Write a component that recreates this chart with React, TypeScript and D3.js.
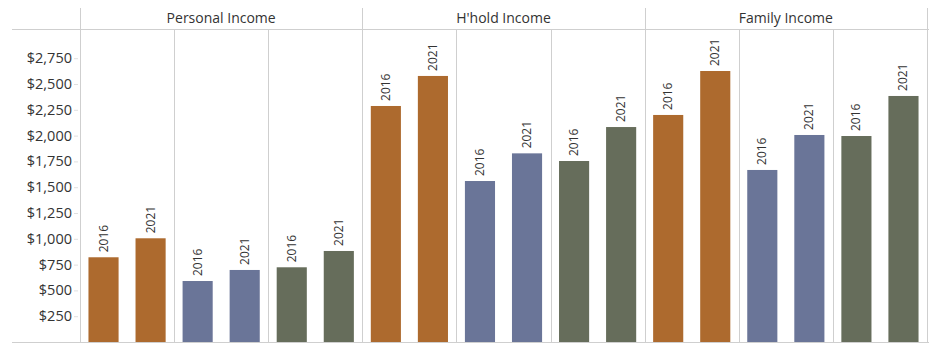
import React, { useEffect, useRef } from "react";
import * as d3 from "d3";

const panels = ["Personal Income", "H'hold Income", "Family Income"];
const groups = ["A", "B", "C"];
const years = ["2016", "2021"];
const groupColors = ["#AD6A2E", "#6A7598", "#666D5B"];

// values per panel, per group: [2016, 2021]
const personalValues = [[821, 1005], [591, 698], [724, 882]];
const hholdValues = [[2287, 2578], [1560, 1828], [1754, 2083]];
const familyValues = [[2200, 2626], [1667, 2006], [1996, 2384]];

const yTicks = [250, 500, 750, 1000, 1250, 1500, 1750, 2000, 2250, 2500, 2750];

const W = 929;
const H = 354;

export default function App() {
  const svgRef = useRef<SVGSVGElement>(null);

  useEffect(() => {
    if (!svgRef.current) return;
    const svg = d3.select(svgRef.current);
    svg.selectAll("*").remove();

    const left = 80;
    const right = 927;
    const headerTop = 8;
    const top = 29;
    const bottom = 342;
    const font = "Open Sans, sans-serif";
    const grid = "#cfcfcf";

    const allValues = [personalValues, hholdValues, familyValues];

    const x0 = d3.scaleBand<string>().domain(panels).range([left, right]);
    const x1 = d3.scaleBand<string>().domain(groups).range([0, x0.bandwidth()]);
    const x2 = d3.scaleBand<string>().domain(years).range([0, x1.bandwidth()]).paddingInner(0.36).paddingOuter(0.18);
    const y = d3.scaleLinear().domain([0, 3033]).range([bottom, top]);

    // header line and baseline
    svg.append("line").attr("x1", 12).attr("x2", W).attr("y1", top + 0.5).attr("y2", top + 0.5).attr("stroke", grid);
    svg.append("line").attr("x1", 12).attr("x2", W).attr("y1", bottom + 0.5).attr("y2", bottom + 0.5).attr("stroke", grid);

    // panel separators
    const panelEdges = [left, ...panels.map((p) => (x0(p) as number) + x0.bandwidth())];
    panelEdges.forEach((px) => {
      svg.append("line")
        .attr("x1", Math.round(px) + 0.5).attr("x2", Math.round(px) + 0.5)
        .attr("y1", headerTop).attr("y2", bottom)
        .attr("stroke", grid);
    });

    // sub-cell separators
    panels.forEach((p) => {
      groups.slice(1).forEach((g) => {
        const gx = Math.round((x0(p) as number) + (x1(g) as number)) + 0.5;
        svg.append("line").attr("x1", gx).attr("x2", gx).attr("y1", top).attr("y2", bottom).attr("stroke", grid);
      });
    });

    // panel headers
    svg.selectAll(".panel-label")
      .data(panels)
      .enter()
      .append("text")
      .attr("x", (d) => (x0(d) as number) + x0.bandwidth() / 2)
      .attr("y", 23)
      .attr("text-anchor", "middle")
      .attr("font-family", font)
      .attr("font-size", 14)
      .attr("fill", "#333")
      .text((d) => d);

    // y axis
    const yAxis = svg.append("g");
    yTicks.forEach((t) => {
      yAxis.append("line")
        .attr("x1", 74).attr("x2", 78)
        .attr("y1", y(t) + 0.5).attr("y2", y(t) + 0.5)
        .attr("stroke", "#e0e0e0");
      yAxis.append("text")
        .attr("x", 72)
        .attr("y", y(t))
        .attr("dy", "0.35em")
        .attr("text-anchor", "end")
        .attr("font-family", font)
        .attr("font-size", 14.5)
        .attr("fill", "#333")
        .text(d3.format("$,")(t));
    });

    // bars
    const cells: { panel: string; group: string; gi: number; year: string; value: number }[] = [];
    panels.forEach((p, pi) => {
      groups.forEach((g, gi) => {
        years.forEach((yr, yi) => {
          cells.push({ panel: p, group: g, gi, year: yr, value: allValues[pi][gi][yi] });
        });
      });
    });

    const bx = (d: typeof cells[number]) =>
      (x0(d.panel) as number) + (x1(d.group) as number) + (x2(d.year) as number);

    svg.selectAll(".bar")
      .data(cells)
      .enter()
      .append("rect")
      .attr("x", bx)
      .attr("y", (d) => y(d.value))
      .attr("width", x2.bandwidth())
      .attr("height", (d) => bottom - y(d.value))
      .attr("fill", (d) => groupColors[d.gi]);

    svg.selectAll(".bar-label")
      .data(cells)
      .enter()
      .append("text")
      .attr("transform", (d) => `translate(${bx(d) + x2.bandwidth() / 2 + 4},${y(d.value) - 5}) rotate(-90)`)
      .attr("text-anchor", "start")
      .attr("font-family", font)
      .attr("font-size", 12)
      .attr("fill", "#333")
      .text((d) => d.year);
  }, []);

  return (
    <svg
      ref={svgRef}
      width={W}
      height={H}
      style={{ position: "absolute", left: 0, top: 0, background: "#fff" }}
    />
  );
}
